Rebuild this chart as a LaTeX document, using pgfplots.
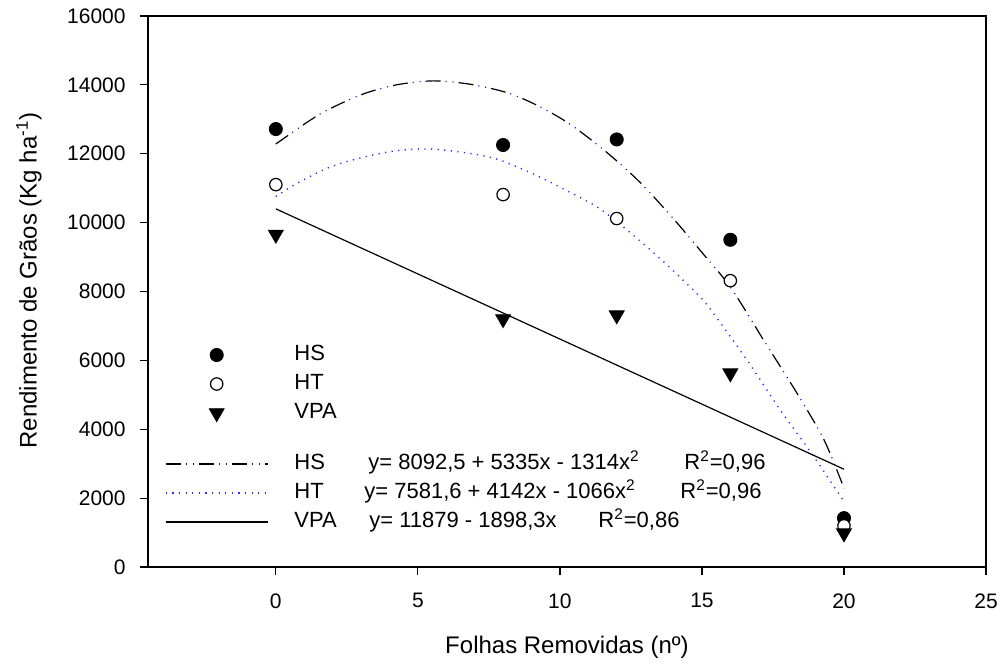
\documentclass[border=0pt]{standalone}
\usepackage{pgfplots}
\pgfplotsset{compat=1.18}
\usepackage{fontspec}
\setmainfont{Liberation Sans}
\pgfplotsset{
  markleg/.style={legend image code/.code={\draw[##1] plot coordinates {(25.5bp,0bp)};}},
  lineleg/.style={legend image code/.code={\draw[##1] (0bp,0bp) -- (51bp,0bp);}},
}
\begin{document}
\begin{tikzpicture}
\path[use as bounding box] (-74bp,-48.5bp) rectangle (427.5bp,283.5bp);
\begin{axis}[
  at={(0,0)}, anchor=south west,
  scale only axis, width=419bp, height=275.5bp,
  xmin=-4.5, xmax=25, ymin=0, ymax=16000,
  xtick={0,5,...,25}, ytick={0,2000,...,16000},
  tick pos=left, tick align=outside, major tick length=4bp,
  axis line style={line width=0.6bp},
  every tick/.style={black, line width=0.6bp},
  tick label style={font=\fontsize{10.5bp}{12bp}\selectfont},
  /pgf/number format/assume math mode=true,
  /pgf/number format/1000 sep={},
  scaled y ticks=false,
  xticklabel style={inner sep=0pt, yshift=-9bp},
  yticklabel style={inner sep=0pt, xshift=-7bp},
  xlabel={Folhas Removidas (nº)},
  ylabel={Rendimento de Grãos (Kg ha\textsuperscript{-1})},
  label style={font=\fontsize{12bp}{14bp}\selectfont},
  xlabel style={at={(axis description cs:0.5,0)}, anchor=north, yshift=-34.5bp, inner sep=0pt},
  ylabel style={at={(axis description cs:-0.1265,0.52)}, anchor=south, inner sep=0pt},
  legend style={at={(0.0203,0.402)}, anchor=north west, draw=none, fill=none,
    inner sep=0pt, outer sep=0pt, row sep=5bp, column sep=13bp,
    font=\fontsize{11bp}{13bp}\selectfont,
    nodes={inner sep=0pt, text height=7.5bp, text depth=2bp}},
  legend cell align=left,
]
% observed points
\addplot[only marks, mark=*, mark size=3.3bp, black, markleg]
  coordinates {(0,12717)(8,12254)(12,12416)(16,9502)(20,1419)};
\addlegendentry{HS}
\addplot[only marks, mark=*, mark size=3.1bp, black, mark options={fill=white, draw=black, line width=0.6bp}, markleg]
  coordinates {(0,11104)(8,10814)(12,10119)(16,8314)(20,1196)};
\addlegendentry{HT}
\addplot[only marks, mark=triangle*, mark size=4.3bp, black, mark options={rotate=180}, markleg]
  coordinates {(0,9655)(8,7202)(12,7312)(16,5628)(20,982)};
\addlegendentry{VPA}
\addlegendimage{empty legend}
\addlegendentry[text height=4bp, text depth=2bp]{}
% fitted curves
\addplot[smooth, black, line width=0.6bp, dash pattern=on 7.5bp off 9bp,
  postaction={draw, blue, line width=0.6bp, dash pattern=on 0.5bp off 3bp on 0.5bp off 12.5bp, dash phase=6.5bp},
  lineleg]
  coordinates {(0,12283)(1.18,12958)(1.88,13297)(3.06,13731)(4.24,14000)(5.53,14116)(6.82,14021)(8.12,13778)(9.18,13413)(10.35,12862)(11.65,12039)(12.82,11170)(14.0,10110)(14.94,9192)(16.0,8129)(17.2,6550)(18.35,5041)(19.3,3688)(20,2288)};
\addlegendentry{\makebox[37bp][l]{HS}\makebox[158bp][l]{y= 8092,5 + 5335x - 1314x\textsuperscript{2}}R\textsuperscript{2}=0,96}
\addplot[smooth, color={rgb,255:red,40;green,40;blue,255}, line width=0.7bp, dash pattern=on 0.6bp off 2.7bp, lineleg]
  coordinates {(0,10756)(0.71,11124)(1.88,11605)(3.06,11895)(4.24,12089)(5.41,12138)(6.59,12040)(7.77,11848)(9.06,11414)(10.24,10930)(11.41,10400)(12.59,9630)(13.76,8780)(14.94,7840)(15.41,7358)(16.59,6005)(17.76,4557)(18.94,3204)(20,1900)};
\addlegendentry{\makebox[35bp][l]{HT}\makebox[158bp][l]{y= 7581,6 + 4142x - 1066x\textsuperscript{2}}R\textsuperscript{2}=0,96}
\addplot[black, line width=0.6bp, lineleg]
  coordinates {(0,10400)(20,2839)};
\addlegendentry{\makebox[37.5bp][l]{VPA}\makebox[114.5bp][l]{y= 11879 - 1898,3x}R\textsuperscript{2}=0,86}
\end{axis}
\end{tikzpicture}
\end{document}
